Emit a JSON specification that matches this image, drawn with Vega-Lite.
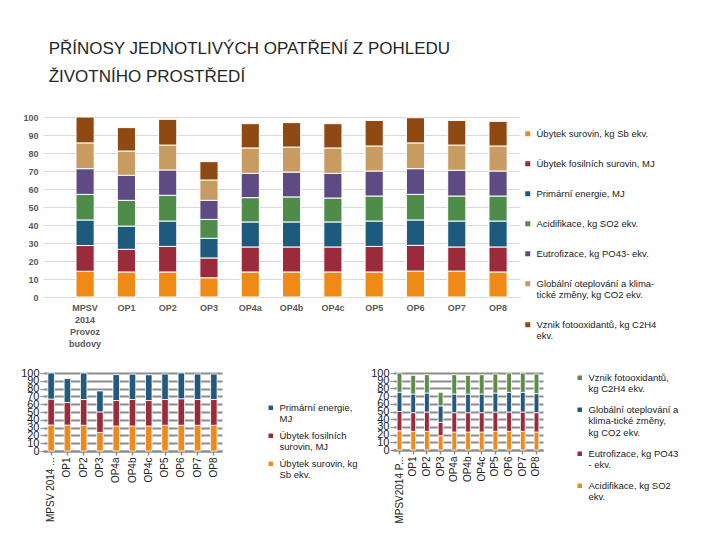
{
  "$schema": "https://vega.github.io/schema/vega-lite/v6.json",
  "background": "white",
  "padding": {"left": 20, "top": 40, "right": 0, "bottom": 0},
  "config": {"font": "Liberation Sans", "view": {"stroke": null}},
  "datasets": {
    "names": [
      {"k": "s", "i": 1, "c": "Úbytek surovin, kg Sb ekv."},
      {"k": "f", "i": 2, "c": "Úbytek fosilních surovin, MJ"},
      {"k": "p", "i": 3, "c": "Primární energie, MJ"},
      {"k": "a", "i": 4, "c": "Acidifikace, kg SO2 ekv."},
      {"k": "e", "i": 5, "c": "Eutrofizace, kg PO43- ekv."},
      {"k": "g", "i": 6, "c": "Globální oteplování a klima-tické změny, kg CO2 ekv."},
      {"k": "v", "i": 7, "c": "Vznik fotooxidantů, kg C2H4 ekv."}
    ],
    "top": [
      {"o": "MPSV 2014 Provoz budovy", "s": 14.3, "f": 14.3, "p": 14.2, "a": 14.2, "e": 14.3, "g": 14.3, "v": 14.4},
      {"o": "OP1", "s": 13.9, "f": 12.6, "p": 12.9, "a": 14.3, "e": 13.9, "g": 13.5, "v": 13.0},
      {"o": "OP2", "s": 13.9, "f": 14.2, "p": 14.1, "a": 14.3, "e": 14.1, "g": 13.8, "v": 14.3},
      {"o": "OP3", "s": 10.7, "f": 11.0, "p": 10.9, "a": 10.5, "e": 10.6, "g": 11.3, "v": 10.2},
      {"o": "OP4a", "s": 13.9, "f": 13.9, "p": 13.9, "a": 13.5, "e": 13.5, "g": 14.1, "v": 13.5},
      {"o": "OP4b", "s": 13.9, "f": 13.9, "p": 13.9, "a": 13.9, "e": 13.8, "g": 13.9, "v": 13.6},
      {"o": "OP4c", "s": 13.9, "f": 13.9, "p": 13.9, "a": 13.3, "e": 13.7, "g": 14.1, "v": 13.5},
      {"o": "OP5", "s": 13.9, "f": 14.2, "p": 14.1, "a": 13.9, "e": 13.9, "g": 13.9, "v": 14.2},
      {"o": "OP6", "s": 14.4, "f": 14.3, "p": 14.1, "a": 14.2, "e": 14.3, "g": 14.3, "v": 14.0},
      {"o": "OP7", "s": 14.4, "f": 13.4, "p": 14.4, "a": 13.9, "e": 14.3, "g": 14.0, "v": 13.7},
      {"o": "OP8", "s": 13.9, "f": 13.9, "p": 14.4, "a": 13.9, "e": 13.9, "g": 13.9, "v": 13.7}
    ],
    "left": [
      {"o": "MPSV 2014 Provoz budovy", "s": 33.3, "f": 33.3, "p": 33.4},
      {"o": "OP1", "s": 33.2, "f": 28.9, "p": 30.7},
      {"o": "OP2", "s": 33.0, "f": 33.0, "p": 34.0},
      {"o": "OP3", "s": 23.8, "f": 26.4, "p": 26.8},
      {"o": "OP4a", "s": 32.0, "f": 32.7, "p": 33.2},
      {"o": "OP4b", "s": 32.0, "f": 34.0, "p": 32.5},
      {"o": "OP4c", "s": 32.0, "f": 32.7, "p": 33.0},
      {"o": "OP5", "s": 33.0, "f": 33.0, "p": 32.7},
      {"o": "OP6", "s": 33.0, "f": 34.0, "p": 33.0},
      {"o": "OP7", "s": 33.0, "f": 33.0, "p": 32.7},
      {"o": "OP8", "s": 33.0, "f": 33.0, "p": 32.7}
    ],
    "right": [
      {"o": "MPSV 2014 Provoz budovy", "a": 25.0, "e": 25.0, "g": 25.0, "v": 25.0},
      {"o": "OP1", "a": 24.2, "e": 24.3, "g": 24.2, "v": 24.2},
      {"o": "OP2", "a": 24.2, "e": 25.1, "g": 24.7, "v": 23.8},
      {"o": "OP3", "a": 18.5, "e": 17.5, "g": 21.3, "v": 17.6},
      {"o": "OP4a", "a": 23.3, "e": 25.2, "g": 24.2, "v": 25.1},
      {"o": "OP4b", "a": 23.3, "e": 25.2, "g": 24.2, "v": 24.2},
      {"o": "OP4c", "a": 23.3, "e": 25.2, "g": 24.2, "v": 25.1},
      {"o": "OP5", "a": 24.2, "e": 25.1, "g": 24.7, "v": 24.7},
      {"o": "OP6", "a": 24.2, "e": 25.1, "g": 25.6, "v": 25.1},
      {"o": "OP7", "a": 24.2, "e": 25.1, "g": 25.6, "v": 25.1},
      {"o": "OP8", "a": 23.3, "e": 25.2, "g": 24.7, "v": 25.5}
    ]
  },
  "title": {
    "text": ["PŘÍNOSY JEDNOTLIVÝCH OPATŘENÍ Z POHLEDU", "ŽIVOTNÍHO PROSTŘEDÍ"],
    "anchor": "start",
    "frame": "bounds",
    "fontSize": 17,
    "fontWeight": "normal",
    "color": "#262626",
    "lineHeight": 28,
    "dx": 28,
    "offset": 27,
    "font": "Liberation Sans"
  },
  "spacing": 14,
  "resolve": {"scale": {"color": "independent"}, "legend": {"color": "independent"}},
  "vconcat": [
    {
      "width": 477,
      "height": 180,
      "data": {"name": "top"},
      "transform": [
        {"fold": ["s", "f", "p", "a", "e", "g", "v"], "as": ["k", "val"]},
        {"lookup": "k", "from": {"data": {"name": "names"}, "key": "k", "fields": ["c", "i"]}}
      ],
      "mark": {"type": "bar", "stroke": "white", "strokeWidth": 1},
      "encoding": {
        "x": {
          "field": "o", "type": "nominal", "sort": null,
          "scale": {"paddingInner": 0.56, "paddingOuter": 0.555, "align": 0.72},
          "axis": {
            "title": null, "labelAngle": 0, "ticks": false,
            "labelExpr": "datum.value == 'MPSV 2014 Provoz budovy' ? ['MPSV', '2014', 'Provoz', 'budovy'] : datum.label",
            "labelFontSize": 9, "labelFontWeight": "bold", "labelColor": "#595959",
            "labelBaseline": "top", "labelPadding": 6, "labelLineHeight": 12,
            "domainColor": "#d9d9d9"
          }
        },
        "y": {
          "field": "val", "type": "quantitative", "stack": "zero",
          "scale": {"domain": [0, 100]},
          "axis": {
            "title": null,
            "values": [0, 10, 20, 30, 40, 50, 60, 70, 80, 90, 100],
            "ticks": false, "domain": false, "labelPadding": 5,
            "labelFontSize": 9, "labelFontWeight": "bold", "labelColor": "#595959",
            "gridColor": "#d9d9d9"
          }
        },
        "order": {"field": "i", "type": "quantitative"},
        "color": {
          "field": "c", "type": "nominal",
          "scale": {
            "domain": ["Úbytek surovin, kg Sb ekv.", "Úbytek fosilních surovin, MJ", "Primární energie, MJ", "Acidifikace, kg SO2 ekv.", "Eutrofizace, kg PO43- ekv.", "Globální oteplování a klima-tické změny, kg CO2 ekv.", "Vznik fotooxidantů, kg C2H4 ekv."],
            "range": ["#EF8A17", "#9B2B3B", "#1D5A7D", "#4F8B49", "#5F4B83", "#C89B61", "#8E4A12"]
          },
          "legend": {
            "title": null, "orient": "right", "offset": -9, "padding": 12,
            "symbolType": "square", "symbolSize": 25, "symbolStrokeWidth": 0,
            "labelFontSize": 9.5, "labelColor": "#222", "labelLimit": 220, "rowPadding": 19,
            "labelExpr": "datum.label == 'Globální oteplování a klima-tické změny, kg CO2 ekv.' ? ['Globální oteplování a klima-', 'tické změny, kg CO2 ekv.'] : datum.label == 'Vznik fotooxidantů, kg C2H4 ekv.' ? ['Vznik fotooxidantů, kg C2H4', 'ekv.'] : datum.label"
          }
        }
      }
    },
    {
      "spacing": -18,
      "resolve": {"scale": {"color": "independent"}, "legend": {"color": "independent"}},
      "hconcat": [
        {
          "width": 179,
          "height": 78,
          "data": {"name": "left"},
          "transform": [
            {"fold": ["s", "f", "p"], "as": ["k", "val"]},
            {"lookup": "k", "from": {"data": {"name": "names"}, "key": "k", "fields": ["c", "i"]}}
          ],
          "mark": {"type": "bar", "stroke": "white", "strokeWidth": 0.8},
          "encoding": {
            "x": {
              "field": "o", "type": "nominal", "sort": null,
              "scale": {"paddingInner": 0.6, "paddingOuter": 0.3},
              "axis": {
                "title": null, "labelAngle": -90,
                "labelExpr": "datum.value == 'MPSV 2014 Provoz budovy' ? 'MPSV 2014 ...' : datum.label",
                "labelFontSize": 10, "labelColor": "#222",
                "domainColor": "#8c8c8c", "domainWidth": 2, "tickColor": "#8c8c8c", "tickSize": 4, "tickWidth": 1.5
              }
            },
            "y": {
              "field": "val", "type": "quantitative", "stack": "zero",
              "scale": {"domain": [0, 100]},
              "axis": {
                "title": null, "values": [0, 10, 20, 30, 40, 50, 60, 70, 80, 90, 100],
                "labelOverlap": false, "labelFontSize": 11, "labelColor": "#222", "labelPadding": 1,
                "domain": false, "tickColor": "#8c8c8c", "tickSize": 3,
                "gridColor": "#8c8c8c", "gridWidth": 2
              }
            },
            "order": {"field": "i", "type": "quantitative"},
            "color": {
              "field": "c", "type": "nominal",
              "scale": {
                "domain": ["Primární energie, MJ", "Úbytek fosilních surovin, MJ", "Úbytek surovin, kg Sb ekv."],
                "range": ["#24597F", "#9B2B3B", "#EE8A1C"]
              },
              "legend": {
                "title": null, "orient": "right", "offset": 14, "padding": 30,
                "symbolType": "square", "symbolSize": 20, "symbolStrokeWidth": 0,
                "labelFontSize": 9.5, "labelColor": "#222", "labelLimit": 200, "rowPadding": 6,
                "labelExpr": "datum.label == 'Primární energie, MJ' ? ['Primární energie,', 'MJ'] : datum.label == 'Úbytek fosilních surovin, MJ' ? ['Úbytek fosilních', 'surovin, MJ'] : ['Úbytek surovin, kg', 'Sb ekv.']"
              }
            }
          }
        },
        {
          "width": 150,
          "height": 77,
          "data": {"name": "right"},
          "transform": [
            {"fold": ["a", "e", "g", "v"], "as": ["k", "val"]},
            {"lookup": "k", "from": {"data": {"name": "names"}, "key": "k", "fields": ["c", "i"]}}
          ],
          "mark": {"type": "bar", "stroke": "white", "strokeWidth": 0.8},
          "encoding": {
            "x": {
              "field": "o", "type": "nominal", "sort": null,
              "scale": {"paddingInner": 0.65, "paddingOuter": 0.3},
              "axis": {
                "title": null, "labelAngle": -90,
                "labelExpr": "datum.value == 'MPSV 2014 Provoz budovy' ? 'MPSV2014 P...' : datum.label",
                "labelFontSize": 10, "labelColor": "#222",
                "domainColor": "#8c8c8c", "domainWidth": 2, "tickColor": "#8c8c8c", "tickSize": 4, "tickWidth": 1.5
              }
            },
            "y": {
              "field": "val", "type": "quantitative", "stack": "zero",
              "scale": {"domain": [0, 100]},
              "axis": {
                "title": null, "values": [0, 10, 20, 30, 40, 50, 60, 70, 80, 90, 100],
                "labelOverlap": false, "labelFontSize": 11, "labelColor": "#222", "labelPadding": 1,
                "domain": false, "tickColor": "#8c8c8c", "tickSize": 3,
                "gridColor": "#8c8c8c", "gridWidth": 2
              }
            },
            "order": {"field": "i", "type": "quantitative"},
            "color": {
              "field": "c", "type": "nominal",
              "scale": {
                "domain": ["Vznik fotooxidantů, kg C2H4 ekv.", "Globální oteplování a klima-tické změny, kg CO2 ekv.", "Eutrofizace, kg PO43- ekv.", "Acidifikace, kg SO2 ekv."],
                "range": ["#5D8C49", "#24597F", "#9B2B3B", "#EE8A1C"]
              },
              "legend": {
                "title": null, "orient": "right", "offset": 32, "padding": 0,
                "symbolType": "square", "symbolSize": 20, "symbolStrokeWidth": 0,
                "labelFontSize": 9.5, "labelColor": "#222", "labelLimit": 200, "rowPadding": 10,
                "labelExpr": "datum.label == 'Vznik fotooxidantů, kg C2H4 ekv.' ? ['Vznik fotooxidantů,', 'kg C2H4 ekv.'] : datum.label == 'Globální oteplování a klima-tické změny, kg CO2 ekv.' ? ['Globální oteplování a', 'klima-tické změny,', 'kg CO2 ekv.'] : datum.label == 'Eutrofizace, kg PO43- ekv.' ? ['Eutrofizace, kg PO43', '- ekv.'] : ['Acidifikace, kg SO2', 'ekv.']"
              }
            }
          }
        }
      ]
    }
  ]
}
